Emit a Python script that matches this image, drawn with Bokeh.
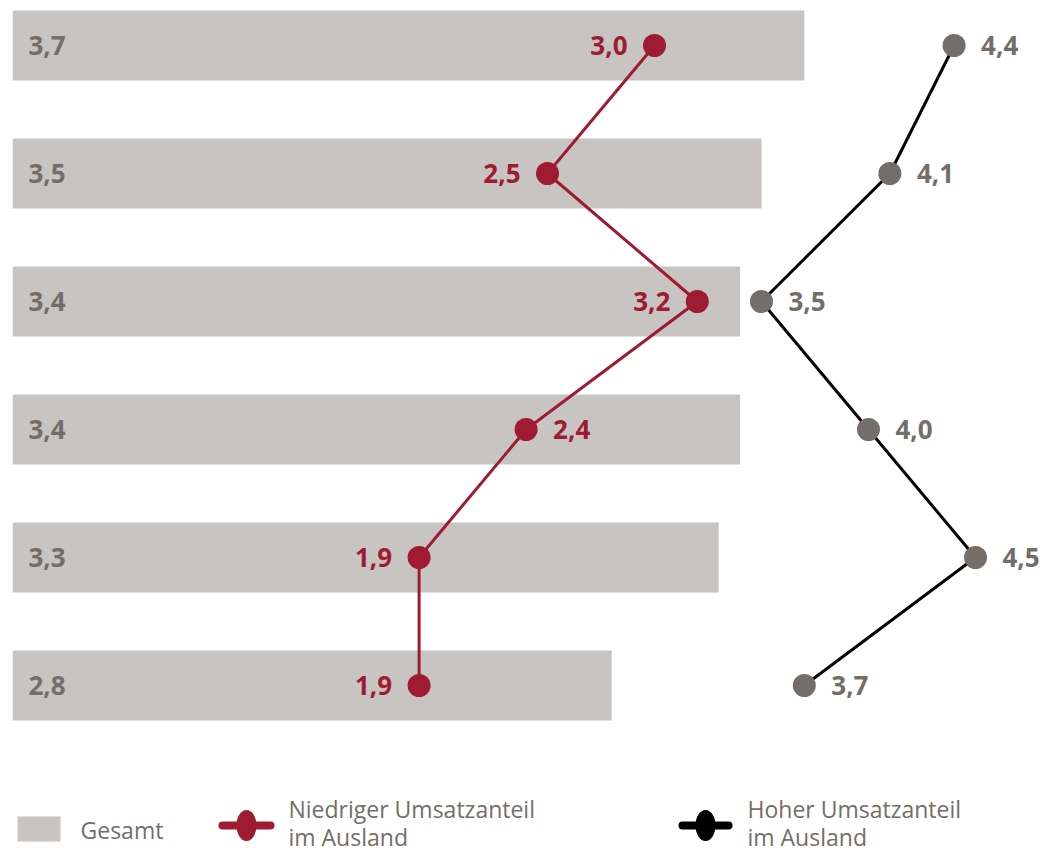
from bokeh.plotting import figure
from bokeh.models import Range1d
from bokeh.core.properties import value
from bokeh.embed import file_html
from bokeh.resources import INLINE

# ---- data ----
rows = [0, 1, 2, 3, 4, 5]
gesamt = [3.7, 3.5, 3.4, 3.4, 3.3, 2.8]
niedrig = [3.0, 2.5, 3.2, 2.4, 1.9, 1.9]
hoch = [4.4, 4.1, 3.5, 4.0, 4.5, 3.7]
niedrig_label_side = ["left", "left", "left", "right", "left", "left"]
legend_labels = ["Gesamt", "Niedriger Umsatzanteil\nim Ausland", "Hoher Umsatzanteil\nim Ausland"]

def fmt(v):
    return f"{v:.1f}".replace(".", ",")

# ---- styling ----
BAR = "#C8C4C1"
RED = "#9E1B32"
GREY = "#736E6A"
FONT = value("Open Sans")
W, H = 1049, 855
X0 = 12.0          # pixel of value 0
PXU = 214.0        # pixels per unit
Y0 = 45.0          # pixel centre of first row
ROW = 128.0        # pixels per row
LBL = "26px"

p = figure(width=W, height=H, output_backend="svg", toolbar_location=None,
           min_border=0, min_border_left=int(X0), min_border_right=0,
           min_border_top=0, min_border_bottom=0,
           x_range=Range1d(0, (W - X0) / PXU),
           y_range=Range1d((H - Y0) / ROW, -Y0 / ROW))
p.axis.visible = False
p.grid.visible = False
p.outline_line_color = None
p.background_fill_color = "white"
p.border_fill_color = "white"

def dx(px):
    return (px - X0) / PXU

def dy(py):
    return (py - Y0) / ROW

# bars
p.hbar(y=rows, left=0, right=gesamt, height=70 / ROW, fill_color=BAR, line_color=None)
p.text(x=[0] * len(rows), y=rows, text=[fmt(v) for v in gesamt], x_offset=16,
       text_align="left", text_baseline="middle", text_color=GREY,
       text_font=FONT, text_font_style="bold", text_font_size=LBL)

# low share (red)
p.line(x=niedrig, y=rows, line_color=RED, line_width=3)
p.scatter(x=niedrig, y=rows, size=23, fill_color=RED, line_color=None)
left_idx = [i for i, s in enumerate(niedrig_label_side) if s == "left"]
right_idx = [i for i, s in enumerate(niedrig_label_side) if s == "right"]
p.text(x=[niedrig[i] for i in left_idx], y=[rows[i] for i in left_idx],
       text=[fmt(niedrig[i]) for i in left_idx], x_offset=-27,
       text_align="right", text_baseline="middle", text_color=RED,
       text_font=FONT, text_font_style="bold", text_font_size=LBL)
p.text(x=[niedrig[i] for i in right_idx], y=[rows[i] for i in right_idx],
       text=[fmt(niedrig[i]) for i in right_idx], x_offset=27,
       text_align="left", text_baseline="middle", text_color=RED,
       text_font=FONT, text_font_style="bold", text_font_size=LBL)

# high share (black line, grey points)
p.line(x=hoch, y=rows, line_color="black", line_width=3)
p.scatter(x=hoch, y=rows, size=23, fill_color=GREY, line_color=None)
p.text(x=hoch, y=rows, text=[fmt(v) for v in hoch], x_offset=27,
       text_align="left", text_baseline="middle", text_color=GREY,
       text_font=FONT, text_font_style="bold", text_font_size=LBL)

# ---- legend (drawn manually) ----
p.quad(left=[dx(17)], right=[dx(60)], top=[dy(816)], bottom=[dy(841)],
       fill_color=BAR, line_color=None)
for (x1, x2, col) in [(222, 270, RED), (682, 728, "black")]:
    p.line(x=[dx(x1), dx(x2)], y=[dy(825), dy(825)], line_color=col,
           line_width=8, line_cap="round")
    p.ellipse(x=[dx((x1 + x2) / 2)], y=[dy(825)], width=20, height=31,
              width_units="screen", height_units="screen",
              fill_color=col, line_color=None)

lx = [dx(80), dx(288), dx(288), dx(747), dx(747)]
ly = [dy(829), dy(808), dy(836), dy(808), dy(836)]
lt = [legend_labels[0]] + legend_labels[1].split("\n") + legend_labels[2].split("\n")
p.text(x=lx, y=ly, text=lt, text_align="left", text_baseline="middle",
       text_color=GREY, text_font=FONT, text_font_size="23px")

open("out.html", "w").write(file_html(p, INLINE))
